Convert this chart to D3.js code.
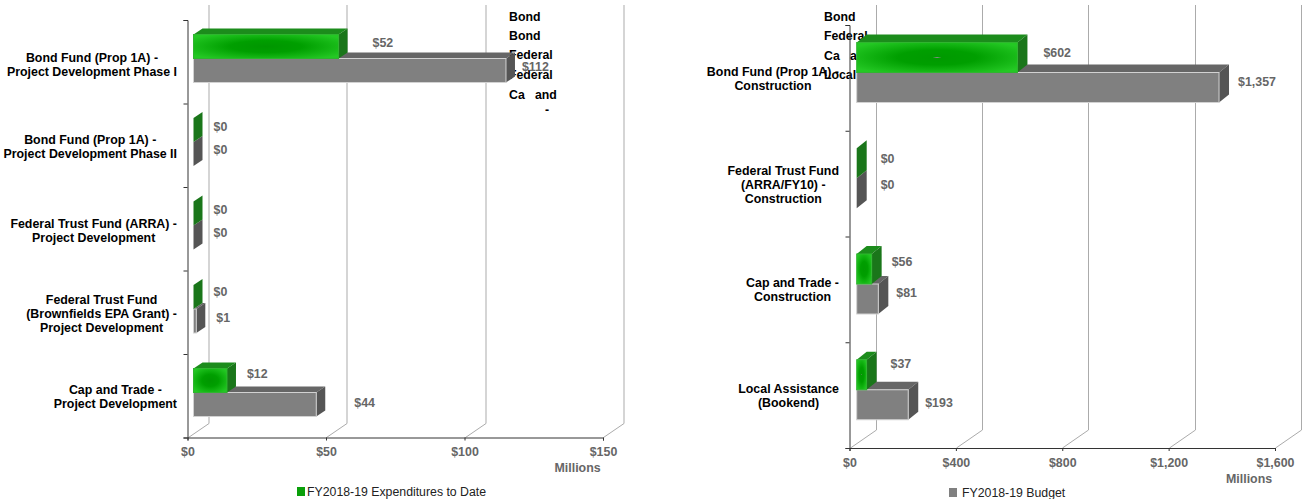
<!DOCTYPE html>
<html><head><meta charset="utf-8">
<script src="https://cdn.jsdelivr.net/npm/d3@7"></script>
<style>html,body{margin:0;padding:0;background:#fff}svg{display:block;font-family:"Liberation Sans",Arial,sans-serif}</style>
</head><body><svg id="c" width="1303" height="499"></svg>
<script>
const leftCategories=[
 ["Bond Fund (Prop 1A) -","Project Development Phase I"],
 ["Bond Fund (Prop 1A) -","Project Development Phase II"],
 ["Federal Trust Fund (ARRA) -","Project Development"],
 ["Federal Trust Fund","(Brownfields EPA Grant) -","Project Development"],
 ["Cap and Trade -","Project Development"]];
const leftExpenditures=[52,0,0,0,12];
const leftBudget=[112,0,0,1,44];
const leftTicks=[0,50,100,150];
const leftStray=["Bond","Bond","Federal","Federal","Ca   and","-"];

const rightCategories=[
 ["Bond Fund (Prop 1A) -","Construction"],
 ["Federal Trust Fund","(ARRA/FY10) -","Construction"],
 ["Cap and Trade -","Construction"],
 ["Local Assistance","(Bookend)"]];
const rightExpenditures=[602,0,56,37];
const rightBudget=[1357,0,81,193];
const rightTicks=[0,400,800,1200,1600];
const rightStray=["Bond","Federal","Ca   a","Local"];

const seriesNames=["FY2018-19 Expenditures to Date","FY2018-19 Budget"];

const svg=d3.select("#c");
const defs=svg.append("defs");
function grad(id,spot){
  const g=defs.append("radialGradient").attr("id",id).attr("cx","50%").attr("cy","50%").attr("r","62%");
  if(spot){g.append("stop").attr("offset","0").attr("stop-color","#8a8a8a");g.append("stop").attr("offset","0.045").attr("stop-color","#009a00");}
  else g.append("stop").attr("offset","0").attr("stop-color","#009600");
  g.append("stop").attr("offset","0.4").attr("stop-color","#009f00");
  g.append("stop").attr("offset","1").attr("stop-color","#24c824");
}
grad("gL",false);grad("gR",true);

const money=d3.format(",.0f");
const GREY="#666666";
const LABEL=12.4;

function chart(o){
  const g=svg.append("g");
  const x=d3.scaleLinear().domain(o.domain).range(o.xr);
  const xBar=d3.scaleLinear().domain(o.domain).range(o.barRange);
  const y=d3.scaleBand().domain(d3.range(o.cats.length)).range(o.yr);
  const inner=d3.scaleBand().domain([0,1]).range(o.inner);
  const [dx,dy]=o.wall, [bx,by]=o.depth;
  const base=o.yr[1];

  g.append("g").selectAll("path").data(o.ticks).join("path")
    .attr("fill","none").attr("stroke","#ababab").attr("stroke-width",1)
    .attr("d",t=>{const X=Math.round(x(t))+.5;return `M${X},${base}L${X+dx},${base-dy}L${X+dx},5`;});

  g.append("g").selectAll("text").data(o.stray).join("text")
    .attr("x",(d,i)=>o.strayX[i]).attr("y",(d,i)=>o.strayY[i]+4)
    .attr("font-size",12.3).attr("font-weight","bold").attr("fill","#000")
    .style("white-space","pre").text(d=>d);

  const sets=[
   {v:o.bud,s:1,front:"#808080",top:"#666666",side:"#555555",edge:"#d2d2d2"},
   {v:o.exp,s:0,front:`url(#${o.gid})`,top:"#1c8c1c",side:"#1a761a",edge:"#2fb52f"}];
  sets.forEach(S=>{
    const rows=S.v.map((val,i)=>({val,i}));
    const b=g.append("g").selectAll("g").data(rows).join("g");
    const X0=xBar(0);
    const X1=d=>xBar(d.val);
    const Y=d=>y(d.i)+inner(S.s);
    const h=inner.bandwidth();
    b.append("path").attr("fill",S.top)
      .attr("d",d=>`M${X0},${Y(d)}L${X0+bx},${Y(d)-by}L${X1(d)+bx},${Y(d)-by}L${X1(d)},${Y(d)}Z`);
    b.append("path").attr("fill",S.side)
      .attr("d",d=>`M${X1(d)},${Y(d)}L${X1(d)+bx},${Y(d)-by}L${X1(d)+bx},${Y(d)+h-by}L${X1(d)},${Y(d)+h}Z`);
    b.filter(d=>d.val>0).append("rect").attr("x",X0).attr("y",Y).attr("width",d=>X1(d)-X0).attr("height",h)
      .attr("fill",S.front).attr("stroke",S.edge).attr("stroke-width",1);
  });

  const ax=d3.axisBottom(x).tickValues(o.ticks).tickSize(3).tickPadding(6).tickFormat(t=>"$"+money(t));
  const ag=g.append("g").attr("transform",`translate(0,${base})`).call(ax);
  ag.selectAll("path,line").attr("stroke","#333");
  ag.selectAll("text").attr("fill",GREY).attr("font-size",LABEL).attr("font-weight","bold")
    .attr("font-family","inherit").attr("y",o.tickLabelY-base).attr("dy",".35em");
  const edges=d3.scalePoint().domain(d3.range(o.cats.length+1)).range(o.yr);
  const ay=d3.axisLeft(edges).tickSize(4).tickFormat("");
  const yg=g.append("g").attr("transform",`translate(${o.xr[0]},0)`).call(ay);
  yg.selectAll("path,line").attr("stroke","#333");

  o.cats.forEach((lines,i)=>{
    const t=g.append("g");
    const ts=t.selectAll("text").data(lines).join("text")
      .attr("font-size",LABEL).attr("font-weight","bold").attr("fill","#000").attr("text-anchor","middle")
      .attr("y",(d,k)=>o.catY[i]+(k-(lines.length-1)/2)*14+4).text(d=>d);
    const w=d3.max(ts.nodes(),n=>n.getComputedTextLength());
    ts.attr("x",o.catRight-w/2);
  });

  [[o.exp,0,o.nudgeE],[o.bud,1,o.nudgeB]].forEach(([v,s,n])=>{
    g.append("g").selectAll("text").data(v).join("text")
      .attr("x",(d,i)=>xBar(d)+bx+n[i][0])
      .attr("y",(d,i)=>y(i)+inner(s)+inner.bandwidth()/2+n[i][1]+4)
      .attr("font-size",LABEL).attr("font-weight","bold").attr("fill",GREY)
      .text(d=>"$"+money(d));
  });

  g.append("text").attr("x",o.mill[0]).attr("y",o.mill[1]+4).attr("font-size",LABEL).attr("font-weight","bold").attr("fill",GREY).text("Millions");
  g.append("rect").attr("x",o.leg[0]).attr("y",o.leg[1]).attr("width",8).attr("height",9).attr("fill",o.legColor);
  g.append("text").attr("x",o.leg[2]).attr("y",o.leg[1]+9).attr("font-size",12.3).attr("fill","#222").text(o.legText);
}

chart({cats:leftCategories,exp:leftExpenditures,bud:leftBudget,ticks:leftTicks,domain:[0,150],
  xr:[187.5,603],barRange:[193.5,612],yr:[20,437.5],inner:[14.5,62.5],wall:[20.5,14],depth:[9,6],gid:"gL",
  stray:leftStray,strayX:[509,509,509,509,509,545],strayY:[17,36,55,75,95,110],
  catRight:177,catY:[65,147,231,314,397],tickLabelY:452,
  nudgeE:[[25,-4],[11,-3.5],[11,-3.5],[11,-5.5],[11,-7]],
  nudgeB:[[7,-4],[11,-4.5],[11,-4.5],[11,-3.5],[29,-2]],
  mill:[554.5,468],leg:[297,487,307],legColor:"#0a9f0a",legText:seriesNames[0]});

chart({cats:rightCategories,exp:rightExpenditures,bud:rightBudget,ticks:rightTicks,domain:[0,1600],
  xr:[849.5,1275],barRange:[856.7,1283.9],yr:[25,448],inner:[17.5,77.5],wall:[26,18],depth:[10,8],gid:"gR",
  stray:rightStray,strayX:[824,824,824,824],strayY:[17,36,56,75],
  catRight:839,catY:[79,185,290,395.5],tickLabelY:463,
  nudgeE:[[16,-5],[14,-4],[10,-7],[14,-11]],
  nudgeB:[[9,-6],[14,-8],[8,-6],[7,-2]],
  mill:[1226,479],leg:[949,488,962],legColor:"#808080",legText:seriesNames[1]});
</script></body></html>
